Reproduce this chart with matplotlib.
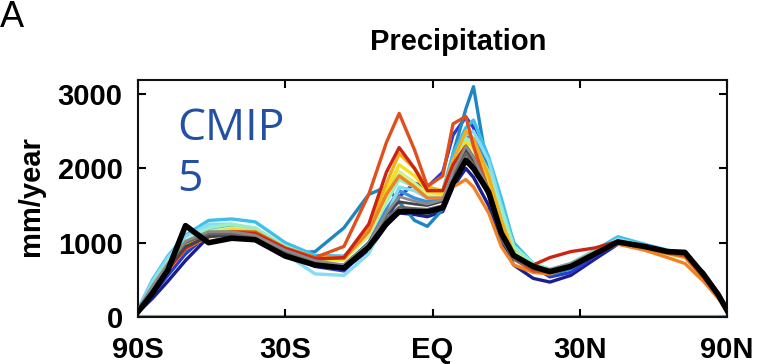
import numpy as np
import matplotlib
matplotlib.use("Agg")
import matplotlib.pyplot as plt

# Latitude grid (degrees)
lat = [-90, -72, -64, -57, -49.5, -43, -37, -30, -23.5, -17.5, -12.5, -9, -6.5, -3.5, -1,
       2, 4, 6.5, 8, 11, 13.5, 16, 20, 23.5, 28, 33.5, 39, 46, 53, 59, 67, 76, 90]

# CMIP5 models (mm/year)
navy = [60, 250, 480, 760, 1080, 1130, 1080, 860, 700, 640, 900, 1230, 1400, 1380, 1350, 1420, 1750, 2000, 1880, 1500, 1000, 700, 520, 470, 560, 780, 980, 950, 870, 840, 600, 320, 120]
blue = [80, 300, 560, 850, 1120, 1150, 1080, 850, 680, 620, 950, 1300, 1620, 1800, 1750, 1950, 2450, 2690, 2550, 2000, 1500, 1000, 680, 540, 600, 820, 990, 940, 860, 830, 560, 300, 110]
dodger = [80, 400, 720, 1000, 1200, 1230, 1150, 900, 700, 680, 1000, 1450, 1700, 1600, 1550, 1600, 2050, 2450, 2400, 2000, 1450, 920, 700, 600, 680, 870, 1030, 960, 880, 850, 560, 290, 100]
steel = [60, 380, 650, 900, 1150, 1200, 1120, 850, 880, 1200, 1650, 1750, 1550, 1300, 1220, 1450, 2200, 2800, 3100, 1900, 1300, 880, 660, 570, 650, 880, 1050, 960, 880, 850, 560, 300, 100]
cyan = [100, 500, 820, 1100, 1300, 1320, 1280, 1000, 830, 820, 1150, 1650, 1950, 1800, 1650, 1700, 2200, 2550, 2650, 2150, 1600, 1000, 720, 640, 720, 900, 1080, 980, 900, 860, 560, 290, 100]
lightcyan = [90, 480, 800, 1080, 1250, 1250, 1150, 850, 580, 560, 850, 1350, 1750, 1700, 1600, 1650, 2100, 2450, 2500, 2100, 1500, 950, 700, 620, 700, 880, 1050, 960, 880, 840, 540, 280, 90]
aqua = [90, 420, 750, 1020, 1200, 1250, 1200, 950, 800, 760, 1100, 1550, 1850, 1750, 1620, 1680, 2100, 2400, 2350, 1950, 1450, 950, 720, 640, 720, 890, 1020, 950, 870, 840, 550, 280, 90]
yellowgreen = [80, 380, 700, 980, 1150, 1200, 1150, 920, 780, 760, 1100, 1600, 1950, 1800, 1650, 1650, 2000, 2300, 2250, 1800, 1300, 880, 680, 620, 700, 880, 1000, 940, 860, 820, 530, 270, 90]
yellow = [80, 350, 680, 960, 1120, 1180, 1150, 920, 780, 780, 1150, 1700, 2050, 1900, 1700, 1650, 2000, 2350, 2300, 1850, 1300, 850, 660, 620, 710, 880, 1000, 940, 860, 820, 530, 270, 90]
gold = [80, 340, 650, 940, 1100, 1150, 1150, 930, 800, 800, 1200, 1800, 2200, 2000, 1750, 1700, 2100, 2500, 2400, 1900, 1300, 850, 650, 600, 700, 870, 990, 930, 850, 800, 520, 260, 90]
orange = [70, 320, 620, 920, 1080, 1120, 1120, 920, 790, 790, 1150, 1650, 1900, 1750, 1600, 1600, 1750, 1850, 1750, 1400, 950, 700, 600, 580, 680, 850, 980, 900, 800, 720, 480, 250, 80]
orangered = [70, 330, 640, 930, 1100, 1150, 1140, 930, 800, 950, 1650, 2350, 2740, 2250, 1760, 1900, 2600, 2700, 2300, 1700, 1150, 780, 620, 600, 700, 870, 1000, 930, 860, 820, 530, 270, 90]
red = [70, 330, 640, 930, 1100, 1140, 1120, 920, 780, 800, 1250, 1950, 2280, 2000, 1700, 1700, 2050, 2300, 2150, 1700, 1100, 800, 700, 800, 880, 930, 1020, 950, 870, 840, 550, 280, 90]

# Observations (gray) and reference (black)
gray1 = [80, 350, 650, 950, 1080, 1100, 1060, 870, 720, 700, 1000, 1380, 1550, 1520, 1500, 1560, 1900, 2250, 2100, 1700, 1100, 800, 650, 600, 690, 860, 1000, 960, 880, 860, 560, 280, 90]
gray2 = [90, 400, 700, 1000, 1120, 1120, 1080, 890, 740, 690, 980, 1320, 1480, 1460, 1450, 1500, 1850, 2200, 2050, 1620, 1050, 780, 660, 620, 700, 870, 1010, 960, 880, 850, 560, 290, 90]
gray3 = [100, 420, 720, 1020, 1150, 1150, 1100, 900, 760, 700, 990, 1400, 1620, 1560, 1520, 1580, 1950, 2300, 2150, 1720, 1150, 820, 680, 640, 720, 880, 1020, 960, 890, 860, 580, 300, 100]
black = [70, 320, 630, 1230, 1000, 1060, 1040, 820, 700, 660, 940, 1260, 1420, 1420, 1415, 1470, 1800, 2110, 2000, 1680, 1130, 830, 680, 610, 680, 850, 1010, 950, 880, 870, 570, 300, 90]

models = [navy, blue, dodger, steel, cyan, lightcyan, aqua, yellowgreen, yellow, gold, orange, orangered, red]
model_colors = ['#1a1f8f', '#2a3ad0', '#3b8fe0', '#1f86c4', '#3cc0ea', '#86dcf2', '#98eec8', '#d8f27a',
                '#f2e022', '#f2ae1a', '#f08226', '#e0501c', '#cc2414']
grays = [gray1, gray2, gray3]
gray_colors = ['#444444', '#666666', '#8a8a8a']

xticks = [-90, -30, 0, 30, 90]
xticklabels = ['90S', '30S', 'EQ', '30N', '90N']
yticks = [0, 1000, 2000, 3000]

tickfont = 'Liberation Sans'

fig = plt.figure(figsize=(7.59, 3.64), dpi=100)
ax = fig.add_axes([138 / 759, 1 - 317 / 364, 589 / 759, 237 / 364])

fwd = lambda x: np.sin(np.radians(np.clip(x, -90, 90)))
inv = lambda s: np.degrees(np.arcsin(np.clip(s, -1, 1)))
ax.set_xscale('function', functions=(fwd, inv))

ax.axhline(0, color='#40c4c4', lw=3, zorder=1)
for vals, c in zip(models, model_colors):
    ax.plot(lat, vals, color=c, lw=2.4, solid_joinstyle='round', zorder=2)
for vals, c in zip(grays, gray_colors):
    ax.plot(lat, vals, color=c, lw=2.0, solid_joinstyle='round', zorder=3)
ax.plot(lat, black, color='black', lw=4.0, solid_joinstyle='round', zorder=4)

ax.set_xlim(-90, 90)
ax.set_ylim(0, 3190)
ax.set_xticks(xticks)
ax.set_xticklabels(xticklabels)
ax.set_yticks(yticks)
ax.tick_params(direction='in', length=6, width=1.5, top=True, right=True,
               labelsize=21)
ax.tick_params(axis='x', pad=14)
ax.tick_params(axis='y', pad=11)
for lab in ax.get_xticklabels() + ax.get_yticklabels():
    lab.set_fontfamily(tickfont)
    lab.set_fontweight('bold')
for sp in ax.spines.values():
    sp.set_linewidth(1.5)
    sp.set_color('#111111')

ax.text(0.066, 0.89, 'CMIP\n5', transform=ax.transAxes, ha='left', va='top',
        fontsize=32, color='#2251a3', family='Open Sans', linespacing=1.22)

fig.text(458 / 759, 1 - 50 / 364, 'Precipitation', ha='center', va='baseline',
         fontsize=21, fontweight='bold', family=tickfont)
fig.text(31 / 759, 1 - 196 / 364, 'mm/year', ha='center', va='center', rotation=90,
         fontsize=21, fontweight='bold', family=tickfont)
fig.text(0.0, 1 - 27 / 364, 'A', ha='left', va='baseline', fontsize=26, family=tickfont)

fig.savefig('out.png', dpi=100)
